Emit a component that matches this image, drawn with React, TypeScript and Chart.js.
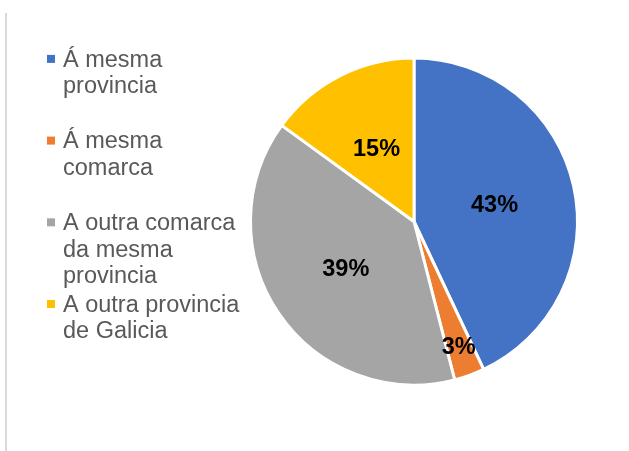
import React, { useEffect, useRef } from "react";
import { Chart, registerables } from "chart.js";

Chart.register(...registerables);

const categories: string[] = [
  "Á mesma provincia",
  "Á mesma comarca",
  "A outra comarca da mesma provincia",
  "A outra provincia de Galicia",
];
const values: number[] = [43, 3, 39, 15];
const valueLabels: string[] = ["43%", "3%", "39%", "15%"];
const colors: string[] = ["#4472C4", "#ED7D31", "#A5A5A5", "#FFC000"];

const FONT = "'Liberation Sans', Arial, Helvetica, sans-serif";

function wrap(ctx: CanvasRenderingContext2D, text: string, maxW: number): string[] {
  const words = text.split(" ");
  const lines: string[] = [];
  let cur = "";
  for (const w of words) {
    const t = cur ? cur + " " + w : w;
    if (ctx.measureText(t).width > maxW && cur) {
      lines.push(cur);
      cur = w;
    } else cur = t;
  }
  if (cur) lines.push(cur);
  return lines;
}

const decorPlugin = {
  id: "decor",
  afterDraw(chart: any) {
    const ctx: CanvasRenderingContext2D = chart.ctx;
    ctx.save();
    // left border line
    ctx.fillStyle = "#D9D9D9";
    ctx.fillRect(5, 13, 2, 451 - 13);

    // legend
    ctx.font = `23.5px ${FONT}`;
    ctx.textBaseline = "alphabetic";
    ctx.textAlign = "left";
    const labels: string[] = chart.data.labels;
    const bg: string[] = chart.data.datasets[0].backgroundColor;
    labels.forEach((lab, i) => {
      const y0 = 66.6 + i * 81.7;
      ctx.fillStyle = bg[i];
      ctx.fillRect(47, y0 - 11.7, 8, 8);
      ctx.fillStyle = "#595959";
      const lines = wrap(ctx, lab, 185);
      lines.forEach((ln, j) => {
        ctx.fillText(ln, 63, y0 + j * 26.7);
      });
    });

    // data labels
    const meta = chart.getDatasetMeta(0);
    const total = values.reduce((a, b) => a + b, 0);
    ctx.font = `bold 23.5px ${FONT}`;
    ctx.fillStyle = "#000000";
    ctx.textAlign = "center";
    meta.data.forEach((arc: any, i: number) => {
      const p = arc.getProps(["x", "y", "startAngle", "endAngle", "outerRadius"], true);
      const mid = (p.startAngle + p.endAngle) / 2;
      const frac = values[i] / total < 0.05 ? 0.8 : 0.5;
      const r = (p.outerRadius + 1.5) * frac;
      const cx = p.x + Math.cos(mid) * r;
      const cy = p.y + Math.sin(mid) * r;
      ctx.fillText(valueLabels[i], cx, cy + 8.4);
    });
    ctx.restore();
  },
};

export default function App() {
  const ref = useRef<HTMLCanvasElement | null>(null);
  useEffect(() => {
    if (!ref.current) return;
    const chart = new Chart(ref.current, {
      type: "pie",
      data: {
        labels: categories,
        datasets: [
          {
            data: values,
            backgroundColor: colors,
            borderColor: "#FFFFFF",
            borderWidth: 3,
          },
        ],
      },
      options: {
        responsive: false,
        animation: false,
        layout: { padding: { left: 249, right: 50, top: 56.5, bottom: 64.5 } },
        plugins: {
          legend: { display: false },
          tooltip: { enabled: false },
        },
      },
      plugins: [decorPlugin],
    });
    return () => chart.destroy();
  }, []);
  return (
    <div style={{ position: "fixed", left: 0, top: 0, width: 629, height: 451, background: "#fff" }}>
      <canvas ref={ref} width={629} height={451} style={{ display: "block" }} />
    </div>
  );
}
